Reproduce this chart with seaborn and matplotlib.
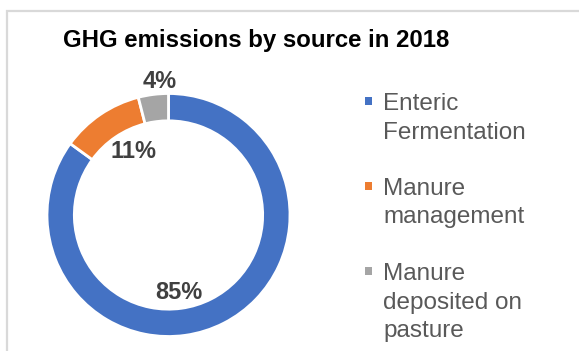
import matplotlib
matplotlib.use("Agg")
import matplotlib.pyplot as plt
from matplotlib.patches import Rectangle
import seaborn as sns

# Data
sources = ["Enteric\nFermentation", "Manure\nmanagement", "Manure\ndeposited on\npasture"]
shares = [85, 11, 4]
colors = ["#4472C4", "#ED7D31", "#A5A5A5"]
title = "GHG emissions by source in 2018"

sns.set_theme(style="white")
plt.rcParams["font.family"] = ["Liberation Sans", "DejaVu Sans"]

W, H = 579, 351
fig = plt.figure(figsize=(W / 100, H / 100), dpi=100)
fig.patch.set_facecolor("white")

# Chart-area frame (extends past the right and bottom edges)
fig.add_artist(Rectangle((7.5 / W, -0.1), 1.2, (H - 10.5) / H + 0.1,
                         transform=fig.transFigure, fill=False,
                         edgecolor="#D9D9D9", linewidth=1.6))

# Donut axes: centre (168.5, 215) px, outer radius 121.5 px
cx, cy, r = 168.5, 215, 121.5
ax = fig.add_axes([(cx - r) / W, (H - cy - r) / H, 2 * r / W, 2 * r / H])
ax.pie(shares, colors=colors, startangle=90, counterclock=False, radius=1,
       wedgeprops=dict(width=0.225, edgecolor="white", linewidth=2))
ax.set_xlim(-1, 1)
ax.set_ylim(-1, 1)
ax.set_aspect("equal")
ax.axis("off")

# Percentage labels
label_pos = [(0.086, -0.634), (-0.292, 0.519), (-0.07, 1.099)]
for v, (lx, ly) in zip(shares, label_pos):
    ax.text(lx, ly, f"{v}%", ha="center", va="center", fontsize=17,
            fontweight="bold", color="#404040", clip_on=False)

fig.text(256 / W, 1 - 40 / H, title, ha="center", va="center",
         fontsize=17.3, fontweight="bold", color="black")

# Legend, one entry per source; each wrapped line set on its own baseline
baselines = [110, 195, 280]
line_step = 28.5
for lab, col, yb in zip(sources, colors, baselines):
    fig.add_artist(Rectangle((365 / W, 1 - (yb - 5) / H), 7 / W, 8 / H,
                             transform=fig.transFigure, facecolor=col,
                             edgecolor="none"))
    for i, line in enumerate(lab.split("\n")):
        fig.text(383 / W, 1 - (yb + i * line_step) / H, line, ha="left",
                 va="baseline", fontsize=17.5, color="#595959")

fig.savefig("out.png", dpi=100, facecolor="white")
